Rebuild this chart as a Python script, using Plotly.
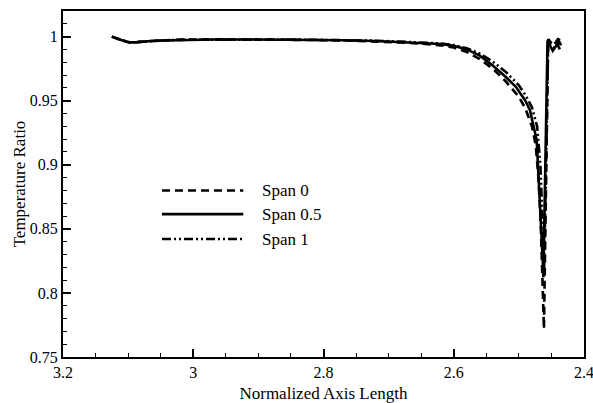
import plotly.graph_objects as go

# Span 0 (dashed)
x_span0 = [3.125, 3.112, 3.098, 3.085, 3.06, 3.02, 2.97, 2.92, 2.87, 2.82, 2.77, 2.72, 2.68, 2.65,
           2.62, 2.60, 2.58, 2.56, 2.54, 2.52, 2.50, 2.49, 2.48, 2.474, 2.470, 2.4665, 2.464, 2.4625,
           2.4615, 2.461, 2.459, 2.457, 2.455, 2.447, 2.440, 2.436]
y_span0 = [1.000, 0.9973, 0.9955, 0.9958, 0.9969, 0.9977, 0.9979, 0.9979, 0.9977, 0.9974, 0.9970,
           0.9963, 0.9954, 0.9946, 0.9932, 0.9915, 0.9880, 0.9825, 0.9750, 0.9650, 0.9530, 0.9440,
           0.9300, 0.9150, 0.8900, 0.8550, 0.8200, 0.7900, 0.7720, 0.7900, 0.8700, 0.9500, 0.9980,
           0.9930, 0.9980, 0.9970]

# Span 0.5 (solid)
x_span05 = [3.125, 3.112, 3.098, 3.085, 3.06, 3.02, 2.97, 2.92, 2.87, 2.82, 2.77, 2.72, 2.68, 2.65,
            2.62, 2.60, 2.58, 2.56, 2.54, 2.52, 2.505, 2.49, 2.483, 2.4726, 2.4675, 2.4634, 2.4624,
            2.460, 2.4575, 2.456, 2.448, 2.441, 2.437]
y_span05 = [1.000, 0.9975, 0.9955, 0.9957, 0.9968, 0.9975, 0.9978, 0.9978, 0.9977, 0.9975, 0.9972,
            0.9966, 0.9958, 0.9952, 0.9942, 0.9928, 0.9900, 0.9852, 0.9775, 0.9685, 0.9610, 0.9500,
            0.9427, 0.9190, 0.8725, 0.8257, 0.8120, 0.8800, 0.9600, 0.9970, 0.9890, 0.9940, 0.9900]

# Span 1 (dash-dot-dot)
x_span1 = [3.125, 3.112, 3.098, 3.085, 3.06, 3.02, 2.97, 2.92, 2.87, 2.82, 2.77, 2.72, 2.68, 2.65,
           2.62, 2.60, 2.58, 2.56, 2.54, 2.52, 2.50, 2.49, 2.48, 2.472, 2.467, 2.464, 2.4625, 2.4615,
           2.459, 2.457, 2.455, 2.445, 2.438, 2.435]
y_span1 = [1.000, 0.9976, 0.9956, 0.9957, 0.9967, 0.9975, 0.9977, 0.9978, 0.9977, 0.9976, 0.9973,
           0.9968, 0.9961, 0.9955, 0.9946, 0.9934, 0.9910, 0.9868, 0.9805, 0.9725, 0.9620, 0.9545,
           0.9450, 0.9300, 0.9000, 0.8600, 0.8300, 0.8150, 0.8800, 0.9600, 0.9960, 0.9910, 0.9960,
           0.9930]

names = ["Span 0", "Span 0.5", "Span 1"]
dashes = ["8px,5px", "solid", "9px,3px,2px,3px,2px,3px"]
xs = [x_span0, x_span05, x_span1]
ys = [y_span0, y_span05, y_span1]

FONT = "Times New Roman, Liberation Serif, DejaVu Serif, serif"

fig = go.Figure()
for name, dash, x, y in zip(names, dashes, xs, ys):
    fig.add_trace(go.Scatter(x=x, y=y, mode="lines", name=name,
                             line=dict(color="black", width=2.6, dash=dash)))

# legend drawn by hand so the line samples are long like the original
leg_y = [0.481, 0.413, 0.341]
for name, dash, ly in zip(names, dashes, leg_y):
    fig.add_shape(type="line", xref="paper", yref="paper", x0=0.19, x1=0.346, y0=ly, y1=ly,
                  line=dict(color="black", width=2.6, dash=dash))
    fig.add_annotation(x=0.379, y=ly, xref="paper", yref="paper", text=name, showarrow=False,
                       xanchor="left", yanchor="middle", font=dict(size=17, color="black", family=FONT))

axis_common = dict(showline=True, linecolor="black", linewidth=2, mirror=True, ticks="inside",
                   ticklen=8, tickwidth=1.5, tickcolor="black", showgrid=False, zeroline=False,
                   automargin=False, ticklabeloverflow="allow",
                   tickfont=dict(size=16, color="black", family=FONT))

fig.update_xaxes(range=[3.2, 2.4], dtick=0.2, tick0=2.4,
                 minor=dict(dtick=0.05, ticks="inside", ticklen=4, tickwidth=1.2, tickcolor="black"),
                 title=dict(text="Normalized Axis Length", font=dict(size=17, color="black", family=FONT),
                            standoff=8),
                 **axis_common)
fig.update_yaxes(range=[0.75, 1.02], dtick=0.05, tick0=0.75,
                 minor=dict(dtick=0.01, ticks="inside", ticklen=4, tickwidth=1.2, tickcolor="black"),
                 title=dict(text="Temperature Ratio", font=dict(size=17, color="black", family=FONT),
                            standoff=0),
                 **axis_common)

fig.update_layout(width=593, height=403, showlegend=False,
                  font=dict(family=FONT, color="black"),
                  margin=dict(l=63, r=9, t=11, b=46),
                  plot_bgcolor="white", paper_bgcolor="white")

fig.write_html("out.html", config={"displayModeBar": False},
               post_script="document.body.style.margin='0';")
